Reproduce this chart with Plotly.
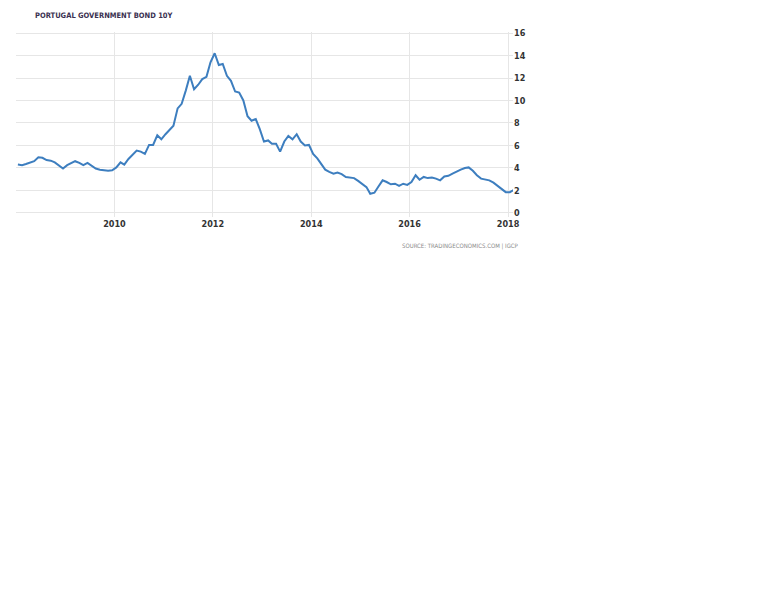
import pandas as pd
import plotly.graph_objects as go

# monthly 10y yields, Jan 2008 - Feb 2018
yields = [
    # 2008
    4.30, 4.25, 4.35, 4.45, 4.60, 4.95, 4.90, 4.70, 4.65, 4.50, 4.25, 3.95,
    # 2009
    4.25, 4.45, 4.60, 4.45, 4.25, 4.45, 4.20, 3.95, 3.85, 3.80, 3.75, 3.80,
    # 2010
    4.05, 4.50, 4.30, 4.80, 5.15, 5.55, 5.45, 5.25, 6.05, 6.05, 6.90, 6.55,
    # 2011
    7.00, 7.40, 7.75, 9.30, 9.70, 10.90, 12.20, 11.00, 11.40, 11.90, 12.10, 13.40,
    # 2012
    14.20, 13.15, 13.25, 12.20, 11.75, 10.80, 10.70, 10.00, 8.60, 8.20, 8.35, 7.45,
    # 2013
    6.35, 6.45, 6.15, 6.15, 5.45, 6.35, 6.85, 6.55, 7.00, 6.35, 6.00, 6.05,
    # 2014
    5.25, 4.85, 4.40, 3.85, 3.65, 3.50, 3.60, 3.45, 3.20, 3.15, 3.10, 2.85,
    # 2015
    2.55, 2.30, 1.70, 1.80, 2.35, 2.90, 2.75, 2.55, 2.60, 2.40, 2.60, 2.50,
    # 2016
    2.75, 3.35, 2.95, 3.20, 3.10, 3.15, 3.05, 2.90, 3.25, 3.30, 3.50, 3.70,
    # 2017
    3.85, 4.00, 4.05, 3.75, 3.35, 3.05, 3.00, 2.90, 2.70, 2.40, 2.10, 1.85,
    # 2018
    1.85, 2.05,
]
dates = pd.date_range("2008-01-01", periods=len(yields), freq="MS") + pd.Timedelta(days=14)

x_ticks = ["2010-01-01", "2012-01-01", "2014-01-01", "2016-01-01", "2018-01-01"]
x_labels = ["2010", "2012", "2014", "2016", "2018"]
y_ticks = list(range(0, 17, 2))

fig = go.Figure()
fig.add_scatter(x=dates, y=yields, mode="lines",
                line=dict(color="#3d7ebf", width=2), hoverinfo="x+y")

# page body adds 8px offset, margins account for it
fig.update_layout(
    width=768, height=614,
    margin=dict(l=8, r=263, t=24, b=405),
    paper_bgcolor="white", plot_bgcolor="white",
    showlegend=False,
    xaxis=dict(
        range=["2008-01-01", "2018-02-07"],
        tickvals=x_ticks, ticktext=x_labels, automargin=False,
        showgrid=True, gridcolor="#e6e6e6", gridwidth=1,
        zeroline=False, showline=False, ticks="",
        tickfont=dict(family="DejaVu Sans Condensed", size=9, color="#333333", weight="bold"),
    ),
    yaxis=dict(
        side="right", range=[-0.36, 16.09], tickvals=y_ticks, automargin=False,
        showgrid=True, gridcolor="#e6e6e6", gridwidth=1,
        zeroline=False, showline=False, ticks="",
        tickfont=dict(family="DejaVu Sans Condensed", size=9, color="#333333", weight="bold"),
    ),
    annotations=[
        dict(text="PORTUGAL GOVERNMENT BOND 10Y", xref="paper", yref="paper",
             x=0.034, y=1.0, yshift=17, xanchor="left", yanchor="middle", showarrow=False,
             font=dict(family="DejaVu Sans Condensed", size=7.5, color="#3a3050", weight="bold")),
        dict(text="SOURCE: TRADINGECONOMICS.COM | IGCP", xref="paper", yref="paper",
             x=1.0, y=0, xshift=8, yshift=-29, xanchor="right", yanchor="middle", showarrow=False,
             font=dict(family="DejaVu Sans Condensed", size=6, color="#8a8a8a")),
    ],
)

fig.write_html("out.html")
